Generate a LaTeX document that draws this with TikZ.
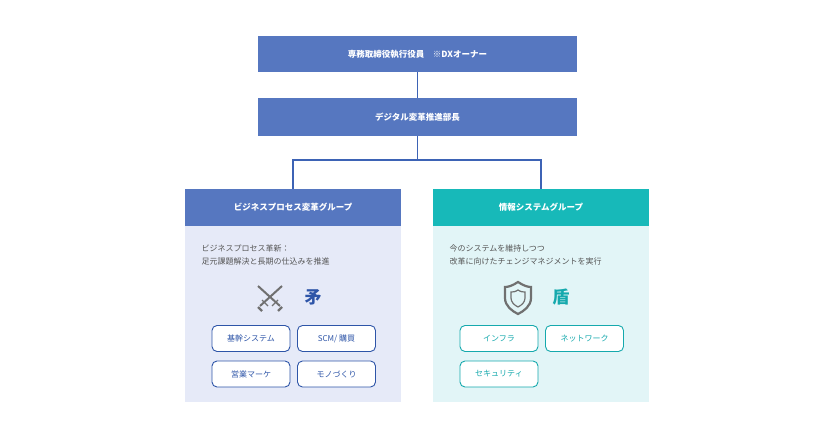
\documentclass[tikz,border=0pt]{standalone}
\usepackage{fontspec}
\setmainfont{Noto Sans CJK JP}
\newfontfamily\jpb{Noto Sans CJK JP Bold}
\definecolor{hblue}{HTML}{5677C0}
\definecolor{hteal}{HTML}{17B9B9}
\definecolor{bblue}{HTML}{E6EAF8}
\definecolor{bteal}{HTML}{E2F5F7}
\definecolor{line}{HTML}{3D63B5}
\definecolor{txt}{HTML}{555555}
\definecolor{pblue}{HTML}{2E55A8}
\definecolor{pteal}{HTML}{15A9AD}
\definecolor{icon}{HTML}{707070}
\begin{document}
\begin{tikzpicture}[x=1pt,y=-1pt,
 hdr/.style={draw=none,text=white,font=\bfseries\fontsize{8.5}{10}\selectfont},
 pill/.style={draw=#1,line width=0.9pt,rounded corners=5pt,fill=white,minimum width=78pt,minimum height=26pt,text=#1,font=\fontsize{8}{10}\selectfont},
 conn/.style={line,line width=1.6pt},
 desc/.style={anchor=west,text=txt,font=\fontsize{8}{13}\selectfont,align=left}]
\useasboundingbox (0,0) rectangle (836,438);
\fill[white] (0,0) rectangle (836,438);
\node[hdr,fill=hblue,minimum width=319pt,minimum height=36pt] (ceo) at (417.5,54) {専務取締役執行役員\quad ※DXオーナー};
\node[hdr,fill=hblue,minimum width=319pt,minimum height=38pt] (dx) at (417.5,117) {デジタル変革推進部長};
\fill[bblue] (185,226) rectangle (401,402);
\fill[bteal] (433,226) rectangle (649,402);
\node[hdr,fill=hblue,minimum width=216pt,minimum height=37pt] (bp) at (293,207.5) {ビジネスプロセス変革グループ};
\node[hdr,fill=hteal,minimum width=216pt,minimum height=37pt] (is) at (541,207.5) {情報システムグループ};
\coordinate (j) at (417.5,160);
\draw[conn] (ceo.south) -- (dx.north);
\draw[conn] (dx.south) -- (j);
\draw[conn] (bp.north) |- (j) -| (is.north);
\node[desc] (d1) at (198,254.5) {ビジネスプロセス革新：\\足元課題解決と長期の仕込みを推進};
\node[desc] (d2) at (446,254.5) {今のシステムを維持しつつ\\改革に向けたチェンジマネジメントを実行};
% swords
\begin{scope}[icon,line width=2pt]
\draw (258,286) -- (280,306); \draw (282,286) -- (260,306);
\draw[line width=1.3pt] (262,300)--(268,306); \draw[line width=1.3pt] (278,300)--(272,306);
\draw[line width=2.4pt] (258,307)--(262,311); \draw[line width=2.4pt] (282,307)--(278,311);
\end{scope}
\node[text=pblue,font=\bfseries\fontsize{17}{17}\selectfont] (hoko) at (313,297) {矛};
% shield
\draw[icon,line width=2.2pt] (518,282) .. controls (512,286) and (508,287) .. (505,287) -- (505,298) .. controls (505,306) and (512,311) .. (518,314) .. controls (524,311) and (531,306) .. (531,298) -- (531,287) .. controls (528,287) and (524,286) .. (518,282) -- cycle;
\draw[icon,line width=1.2pt] (518,290) .. controls (515,292) and (513,292) .. (511,292) -- (511,298) .. controls (511,302) and (514,305) .. (518,307) .. controls (522,305) and (525,302) .. (525,298) -- (525,292) .. controls (523,292) and (521,292) .. (518,290) -- cycle;
\node[text=pteal,font=\bfseries\fontsize{17}{17}\selectfont] (tate) at (561,297) {盾};
\node[pill=pblue] (p1) at (251,338.5) {基幹システム};
\node[pill=pblue] (p2) at (336.5,338.5) {SCM/ 購買};
\node[pill=pblue] (p3) at (251,374) {営業マーケ};
\node[pill=pblue] (p4) at (336.5,374) {モノづくり};
\node[pill=pteal] (q1) at (499,338.5) {インフラ};
\node[pill=pteal] (q2) at (584.5,338.5) {ネットワーク};
\node[pill=pteal] (q3) at (499,374) {セキュリティ};
\end{tikzpicture}
\end{document}
